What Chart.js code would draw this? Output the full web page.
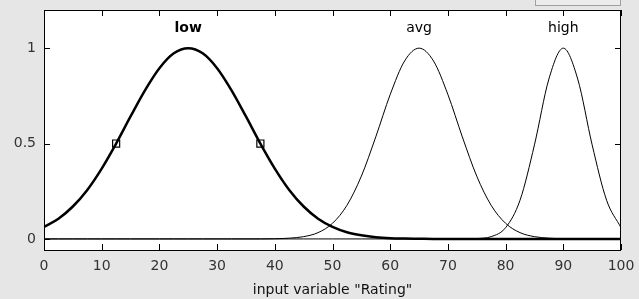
<!DOCTYPE html>
<html>
<head>
<meta charset="utf-8">
<script src="https://cdn.jsdelivr.net/npm/chart.js@4"></script>
<style>
    body { margin: 0; background: #e6e6e6; }
    #wrap { position: relative; width: 639px; height: 299px; }
    #editBox { position: absolute; left: 535px; top: -1px; width: 84px; height: 5px; border: 1px solid #a0a0a0; background: #ececec; }
</style>
</head>
<body>
<div id="wrap">
    <canvas id="mfPlot" width="639" height="299"></canvas>
    <div id="editBox"></div>
</div>
<script>
// input variable "Rating", sampled every 2.5
var rating = [0, 2.5, 5, 7.5, 10, 12.5, 15, 17.5, 20, 22.5, 25, 27.5, 30, 32.5, 35, 37.5, 40, 42.5, 45, 47.5,
    50, 52.5, 55, 57.5, 60, 62.5, 65, 67.5, 70, 72.5, 75, 77.5, 80, 82.5, 85, 87.5, 90, 92.5, 95, 97.5, 100];

var lowMf = [0.063, 0.106, 0.170, 0.257, 0.369, 0.500, 0.642, 0.779, 0.895, 0.973, 1.000, 0.973, 0.895, 0.779,
    0.642, 0.500, 0.369, 0.257, 0.170, 0.106, 0.063, 0.035, 0.019, 0.009, 0.004, 0.002, 0.001,
    0, 0, 0, 0, 0, 0, 0, 0, 0, 0, 0, 0, 0, 0];

var avgMf = [0, 0, 0, 0, 0, 0, 0, 0, 0, 0, 0, 0, 0, 0, 0, 0,
    0.001, 0.004, 0.012, 0.033, 0.082, 0.176, 0.329, 0.535, 0.757, 0.933, 1.000, 0.933, 0.757, 0.535,
    0.329, 0.176, 0.082, 0.033, 0.012, 0.004, 0.001, 0, 0, 0, 0];

var highMf = [0, 0, 0, 0, 0, 0, 0, 0, 0, 0, 0, 0, 0, 0, 0, 0, 0, 0, 0, 0, 0, 0, 0, 0, 0, 0, 0, 0, 0, 0,
    0.002, 0.012, 0.059, 0.203, 0.493, 0.838, 1.000, 0.838, 0.493, 0.203, 0.059];

var mfNames = ["low", "avg", "high"];
var mfCenters = [25, 65, 90];
var markerX = [12.5, 37.5];
var yTicks = [0, 0.5, 1];
var xTicks = [0, 10, 20, 30, 40, 50, 60, 70, 80, 90, 100];

var fontFamily = '"DejaVu Sans", sans-serif';

function toPoints(values) {
    return rating.map(function(x, i) { return {x: x, y: values[i]}; });
}

// white plot area, frame, inward ticks and mf names
var framePlugin = {
    id: 'frame',
    beforeDraw: function(chart) {
        var a = chart.chartArea, ctx = chart.ctx;
        ctx.save();
        ctx.fillStyle = '#ffffff';
        ctx.fillRect(a.left, a.top, a.right - a.left, a.bottom - a.top);
        ctx.restore();
    },
    afterDraw: function(chart) {
        var a = chart.chartArea, ctx = chart.ctx;
        var xs = chart.scales.x, ys = chart.scales.y;
        ctx.save();
        ctx.strokeStyle = '#000';
        ctx.lineWidth = 1;
        ctx.strokeRect(a.left + 0.5, a.top + 0.5, a.right - a.left - 1, a.bottom - a.top);
        ctx.beginPath();
        xTicks.forEach(function(v) {
            var px = Math.round(xs.getPixelForValue(v)) + 0.5;
            ctx.moveTo(px, a.bottom); ctx.lineTo(px, a.bottom - 6);
            ctx.moveTo(px, a.top); ctx.lineTo(px, a.top + 6);
        });
        yTicks.forEach(function(v) {
            var py = Math.round(ys.getPixelForValue(v)) + 0.5;
            ctx.moveTo(a.left, py); ctx.lineTo(a.left + 6, py);
            ctx.moveTo(a.right, py); ctx.lineTo(a.right - 6, py);
        });
        ctx.stroke();

        ctx.fillStyle = '#000';
        ctx.textAlign = 'center';
        ctx.textBaseline = 'middle';
        mfNames.forEach(function(name, i) {
            ctx.font = (i == 0 ? 'bold ' : '') + '14px ' + fontFamily;
            ctx.fillText(name, xs.getPixelForValue(mfCenters[i]), ys.getPixelForValue(1.105));
        });
        ctx.restore();
    }
};

const mfCanvas = document.getElementById('mfPlot').getContext('2d');

const mfChart = new Chart(mfCanvas, {
    type: 'line',
    data: {
        datasets: [
            {
                label: mfNames[1],
                data: toPoints(avgMf),
                borderColor: '#000',
                borderWidth: 1,
                pointRadius: 0,
                cubicInterpolationMode: 'monotone'
            },
            {
                label: mfNames[2],
                data: toPoints(highMf),
                borderColor: '#000',
                borderWidth: 1,
                pointRadius: 0,
                cubicInterpolationMode: 'monotone'
            },
            {
                label: mfNames[0],
                data: toPoints(lowMf),
                borderColor: '#000',
                borderWidth: 2.5,
                cubicInterpolationMode: 'monotone',
                pointStyle: 'rect',
                pointRadius: function(c) { return markerX.indexOf(rating[c.dataIndex]) >= 0 ? 5 : 0; },
                pointBorderWidth: 1.2,
                pointBorderColor: '#000',
                pointBackgroundColor: 'rgba(255,255,255,0)'
            }
        ]
    },
    options: {
        responsive: false,
        animation: false,
        layout: { padding: { top: 10, right: 18, left: 0, bottom: 0 } },
        plugins: { legend: { display: false }, tooltip: { enabled: false } },
        scales: {
            x: {
                type: 'linear',
                min: 0,
                max: 100,
                grid: { display: false, drawTicks: false },
                border: { display: false },
                afterBuildTicks: function(s) { s.ticks = xTicks.map(function(v) { return {value: v}; }); },
                afterFit: function(s) { s.height = 49; s.paddingLeft = 0; s.paddingRight = 0; },
                ticks: {
                    padding: 8,
                    maxRotation: 0,
                    color: '#333',
                    font: { family: fontFamily, size: 14 }
                },
                title: {
                    display: true,
                    text: 'input variable "Rating"',
                    color: '#111',
                    padding: { top: 0, bottom: 0 },
                    font: { family: fontFamily, size: 14 }
                }
            },
            y: {
                min: -0.058,
                max: 1.2,
                grid: { display: false, drawTicks: false },
                border: { display: false },
                afterBuildTicks: function(s) { s.ticks = yTicks.map(function(v) { return {value: v}; }); },
                afterFit: function(s) { s.width = 44; s.paddingTop = 0; s.paddingBottom = 0; },
                ticks: {
                    padding: 8,
                    color: '#333',
                    font: { family: fontFamily, size: 14 },
                    callback: function(v) { return String(v); }
                }
            }
        }
    },
    plugins: [framePlugin]
});
</script>
</body>
</html>
